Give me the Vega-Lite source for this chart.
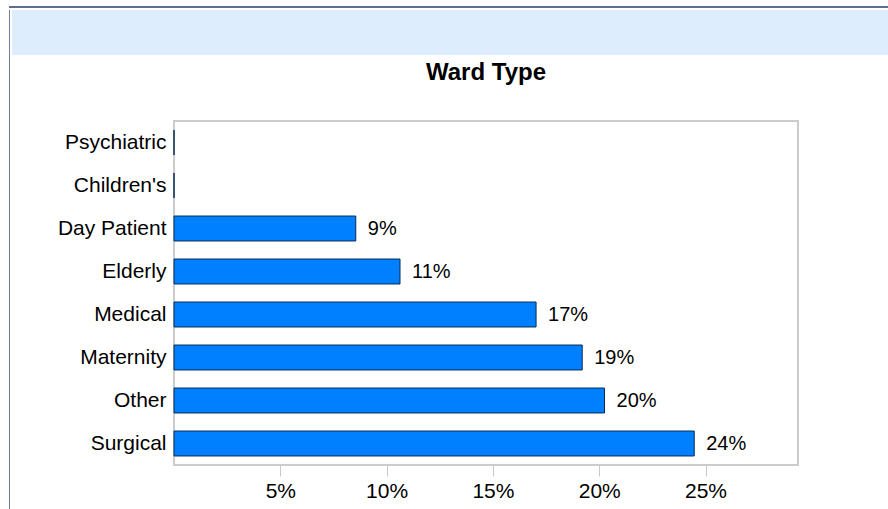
{
  "$schema": "https://vega.github.io/schema/vega-lite/v6.json",
  "background": "white",
  "padding": {"left": 9, "top": 6, "right": 0, "bottom": 0},
  "spacing": 2,
  "config": {"font": "Liberation Sans", "concat": {"spacing": 0}},
  "vconcat": [
    {
      "width": 879, "height": 2,
      "view": {"fill": "#5c7089", "stroke": null},
      "data": {"values": []},
      "mark": {"type": "point", "opacity": 0},
      "encoding": {}
    },
    {
      "spacing": 2,
      "hconcat": [
        {
          "width": 1, "height": 499,
          "view": {"fill": "#6e8098", "stroke": null},
          "data": {"values": []},
          "mark": {"type": "point", "opacity": 0},
          "encoding": {}
        },
        {
          "spacing": 5,
          "vconcat": [
            {
              "width": 876, "height": 45,
              "view": {"fill": "#ddedfd", "stroke": null},
              "data": {"values": []},
              "mark": {"type": "point", "opacity": 0},
              "encoding": {}
            },
            {
              "spacing": 0,
              "hconcat": [
                {
                  "width": 1, "height": 344,
                  "view": {"fill": null, "stroke": null},
                  "data": {"values": []},
                  "mark": {"type": "point", "opacity": 0},
                  "encoding": {}
                },
                {
                  "width": 624, "height": 344,
                  "title": {"text": "Ward Type", "fontSize": 24, "font": "Liberation Sans", "fontWeight": "bold", "color": "black", "offset": 36, "anchor": "middle"},
                  "view": {"stroke": "#cccccc", "strokeWidth": 2, "fill": "white"},
                  "data": {"values": [
                    {"ward": "Psychiatric", "pct": 0},
                    {"ward": "Children's", "pct": 0},
                    {"ward": "Day Patient", "pct": 0.0855},
                    {"ward": "Elderly", "pct": 0.1063},
                    {"ward": "Medical", "pct": 0.1703},
                    {"ward": "Maternity", "pct": 0.192},
                    {"ward": "Other", "pct": 0.2025},
                    {"ward": "Surgical", "pct": 0.2447}
                  ]},
                  "encoding": {
                    "y": {
                      "field": "ward", "type": "nominal",
                      "sort": ["Psychiatric", "Children's", "Day Patient", "Elderly", "Medical", "Maternity", "Other", "Surgical"],
                      "scale": {"paddingInner": 0.42, "paddingOuter": 0.21},
                      "axis": {"title": null, "ticks": false, "domain": false, "labelFontSize": 21, "labelFont": "Liberation Sans", "labelColor": "black", "labelPadding": 8, "minExtent": 160, "labelLimit": 300}
                    }
                  },
                  "layer": [
                    {
                      "mark": {"type": "bar", "fill": "#0080ff", "stroke": "#0a2b55", "strokeWidth": 1},
                      "encoding": {
                        "x": {
                          "field": "pct", "type": "quantitative",
                          "scale": {"domain": [0, 0.2935], "nice": false, "zero": true},
                          "axis": {"title": null, "values": [0.05, 0.1, 0.15, 0.2, 0.25], "format": ".0%", "domain": false, "grid": false, "tickColor": "#c8c8c8", "tickSize": 11, "tickWidth": 1, "labelFontSize": 21, "labelFont": "Liberation Sans", "labelColor": "black", "labelPadding": 4}
                        }
                      }
                    },
                    {
                      "transform": [{"filter": "datum.pct >= 0.005"}],
                      "mark": {"type": "text", "align": "left", "baseline": "middle", "dx": 12, "fontSize": 20, "font": "Liberation Sans", "color": "black"},
                      "encoding": {
                        "x": {"field": "pct", "type": "quantitative"},
                        "text": {"field": "pct", "type": "quantitative", "format": ".0%"}
                      }
                    }
                  ]
                }
              ]
            }
          ]
        }
      ]
    }
  ]
}
